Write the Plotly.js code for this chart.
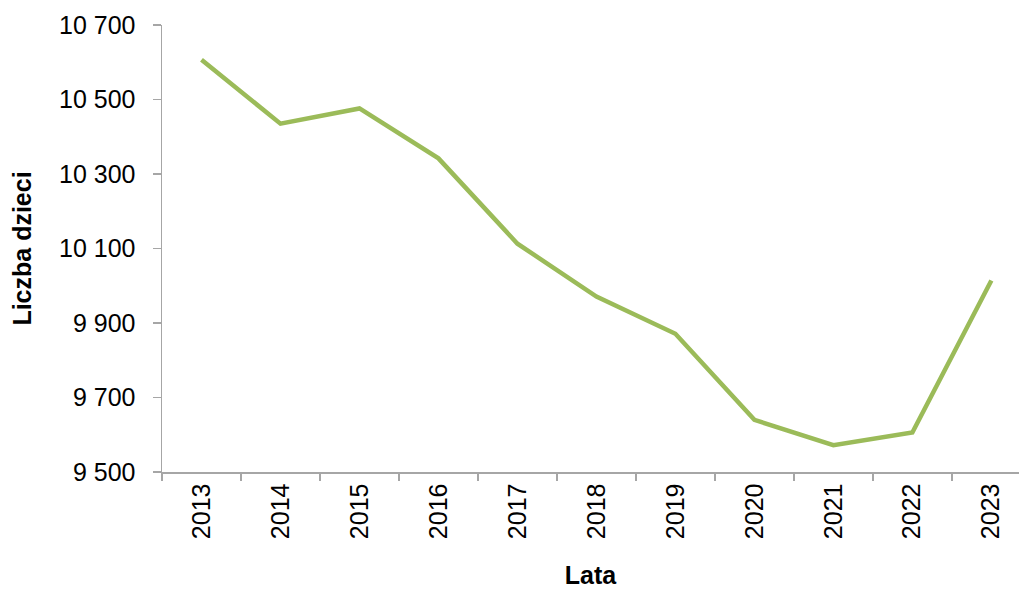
<!DOCTYPE html>
<html>
<head>
<meta charset="utf-8">
<script src="https://cdn.plot.ly/plotly-3.0.1.min.js"></script>
<style>
  body { margin: 0; background: #fff; }
  #chart { width: 1019px; height: 590px; }
</style>
</head>
<body>
<div id="chart"></div>
<script>
var years = ['2013', '2014', '2015', '2016', '2017', '2018', '2019', '2020', '2021', '2022', '2023'];
var children = [10607, 10435, 10476, 10342, 10113, 9971, 9871, 9640, 9572, 9606, 10014];
var yTicks = [9500, 9700, 9900, 10100, 10300, 10500, 10700];

var font = 'Liberation Sans Narrow, Arial Narrow, Liberation Sans, Arial, sans-serif';

var trace = {
    x: years,
    y: children,
    type: 'scatter',
    mode: 'lines',
    line: {color: '#9BBB59', width: 4.5},
    hoverinfo: 'x+y'
};

var layout = {
    width: 1019,
    height: 590,
    margin: {l: 162, r: 0, t: 25, b: 118},
    paper_bgcolor: '#fff',
    plot_bgcolor: '#fff',
    showlegend: false,
    separators: ', ',
    font: {family: font, size: 25, color: '#000'},
    xaxis: {
        type: 'category',
        range: [-0.5, 10.35],
        tickson: 'boundaries',
        ticks: 'outside',
        ticklen: 7,
        tickcolor: '#A6A6A6',
        tickwidth: 1.5,
        tickangle: -90,
        showline: true,
        linecolor: '#A6A6A6',
        linewidth: 1.5,
        showgrid: false,
        zeroline: false,
        tickfont: {family: font, size: 25},
        title: {
            text: '<b>Lata</b>',
            font: {family: font, size: 25},
            standoff: 28
        }
    },
    yaxis: {
        range: [9500, 10700],
        tickvals: yTicks,
        tickformat: ',d',
        ticks: 'outside',
        ticklen: 8,
        tickcolor: '#A6A6A6',
        tickwidth: 1.5,
        ticklabelstandoff: 12,
        showline: true,
        linecolor: '#A6A6A6',
        linewidth: 1.5,
        showgrid: false,
        zeroline: false,
        tickfont: {family: font, size: 25},
        title: {
            text: '<b>Liczba dzieci</b>',
            font: {family: font, size: 25},
            standoff: 20
        }
    }
};

Plotly.newPlot('chart', [trace], layout, {displayModeBar: false, staticPlot: true});
</script>
</body>
</html>
